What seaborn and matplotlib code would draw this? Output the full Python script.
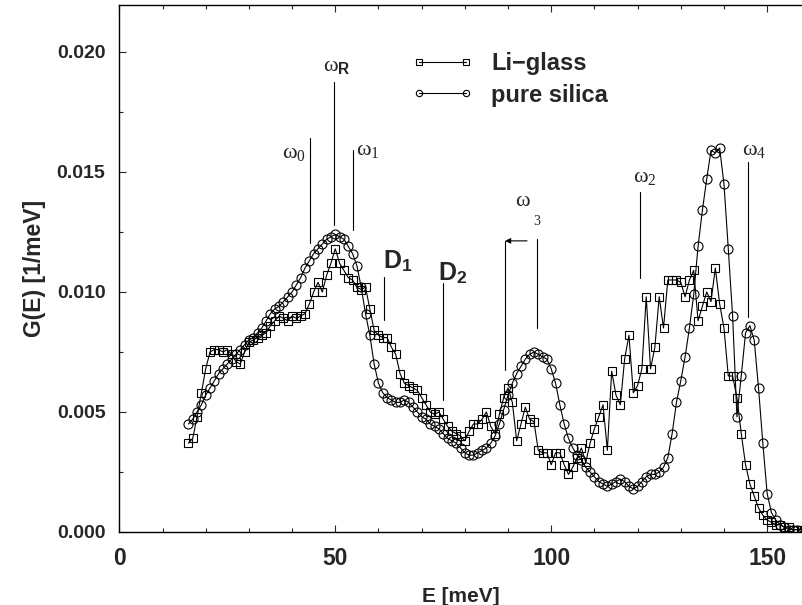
import matplotlib
matplotlib.use("Agg")
import matplotlib.pyplot as plt
import seaborn as sns
import pandas as pd
from matplotlib.ticker import MultipleLocator, FormatStrFormatter

E = [16, 17, 18, 19, 20, 21, 22, 23, 24, 25,
     26, 27, 28, 29, 30, 31, 32, 33, 34, 35,
     36, 37, 38, 39, 40, 41, 42, 43, 44, 45,
     46, 47, 48, 49, 50, 51, 52, 53, 54, 55,
     56, 57, 58, 59, 60, 61, 62, 63, 64, 65,
     66, 67, 68, 69, 70, 71, 72, 73, 74, 75,
     76, 77, 78, 79, 80, 81, 82, 83, 84, 85,
     86, 87, 88, 89, 90, 91, 92, 93, 94, 95,
     96, 97, 98, 99, 100, 101, 102, 103, 104, 105,
     106, 107, 108, 109, 110, 111, 112, 113, 114, 115,
     116, 117, 118, 119, 120, 121, 122, 123, 124, 125,
     126, 127, 128, 129, 130, 131, 132, 133, 134, 135,
     136, 137, 138, 139, 140, 141, 142, 143, 144, 145,
     146, 147, 148, 149, 150, 151, 152, 153, 154, 155,
     156, 157, 158]

silica = [0.0045, 0.0047, 0.0050, 0.0053, 0.0057, 0.0060, 0.0063, 0.0066, 0.0068, 0.0070,
          0.0072, 0.0074, 0.0076, 0.0078, 0.0080, 0.0081, 0.0083, 0.0085, 0.0088, 0.0091,
          0.0093, 0.0094, 0.0096, 0.0098, 0.0100, 0.0103, 0.0106, 0.0110, 0.0113, 0.0116,
          0.0118, 0.0120, 0.0122, 0.0123, 0.0124, 0.0123, 0.0122, 0.0119, 0.0116, 0.0111,
          0.0102, 0.0091, 0.0082, 0.0070, 0.0062, 0.0058, 0.0056, 0.0055, 0.0054, 0.0054,
          0.0055, 0.0054, 0.0052, 0.0050, 0.0048, 0.0047, 0.0045, 0.0044, 0.0043, 0.0041,
          0.0039, 0.0038, 0.0037, 0.0035, 0.0033, 0.0032, 0.0032, 0.0033, 0.0034, 0.0035,
          0.0037, 0.0040, 0.0045, 0.0051, 0.0057, 0.0062, 0.0066, 0.0069, 0.0072, 0.0074,
          0.0075, 0.0074, 0.0073, 0.0072, 0.0068, 0.0062, 0.0053, 0.0045, 0.0039, 0.0035,
          0.0032, 0.0030, 0.0027, 0.0025, 0.0023, 0.0021, 0.0020, 0.0019, 0.0020, 0.0021,
          0.0022, 0.0021, 0.0019, 0.0018, 0.0019, 0.0021, 0.0023, 0.0024, 0.0024, 0.0025,
          0.0027, 0.0031, 0.0041, 0.0054, 0.0063, 0.0073, 0.0085, 0.0099, 0.0119, 0.0134,
          0.0147, 0.0159, 0.0158, 0.0160, 0.0145, 0.0118, 0.0090, 0.0048, 0.0065, 0.0083,
          0.0086, 0.0080, 0.0060, 0.0037, 0.0016, 0.0008, 0.0005, 0.0003, 0.0002, 0.0001,
          0.0001, 0.0001, 0.0000]

li_glass = [0.0037, 0.0039, 0.0048, 0.0058, 0.0068, 0.0075, 0.0076, 0.0076, 0.0075, 0.0076,
            0.0074, 0.0071, 0.0070, 0.0075, 0.0079, 0.0080, 0.0081, 0.0082, 0.0083, 0.0086,
            0.0088, 0.0090, 0.0089, 0.0088, 0.0090, 0.0089, 0.0090, 0.0091, 0.0095, 0.0100,
            0.0104, 0.0100, 0.0107, 0.0112, 0.0118, 0.0112, 0.0109, 0.0106, 0.0105, 0.0102,
            0.0101, 0.0102, 0.0093, 0.0084, 0.0082, 0.0081, 0.0081, 0.0077, 0.0074, 0.0066,
            0.0062, 0.0061, 0.0060, 0.0059, 0.0056, 0.0053, 0.0050, 0.0049, 0.0050, 0.0047,
            0.0044, 0.0042, 0.0041, 0.0040, 0.0038, 0.0042, 0.0045, 0.0045, 0.0047, 0.0050,
            0.0044, 0.0041, 0.0049, 0.0056, 0.0060, 0.0054, 0.0038, 0.0045, 0.0052, 0.0047,
            0.0046, 0.0034, 0.0033, 0.0033, 0.0028, 0.0033, 0.0033, 0.0028, 0.0024, 0.0027,
            0.0031, 0.0035, 0.0029, 0.0037, 0.0043, 0.0048, 0.0053, 0.0034, 0.0067, 0.0057,
            0.0053, 0.0072, 0.0082, 0.0058, 0.0061, 0.0068, 0.0098, 0.0068, 0.0077, 0.0098,
            0.0085, 0.0105, 0.0105, 0.0105, 0.0104, 0.0098, 0.0105, 0.0109, 0.0088, 0.0094,
            0.0100, 0.0096, 0.0110, 0.0095, 0.0085, 0.0065, 0.0065, 0.0056, 0.0041, 0.0028,
            0.0020, 0.0015, 0.0010, 0.0007, 0.0005, 0.0004, 0.0003, 0.0003, 0.0002, 0.0002,
            0.0001, 0.0001, 0.0001]

series_names = ["Li\u2212glass", "pure silica"]

x_major_ticks = [0, 50, 100, 150]
y_major_ticks = [0.000, 0.005, 0.010, 0.015, 0.020]

sns.set_theme(style="ticks")
plt.rcParams['font.family'] = ['Liberation Sans', 'DejaVu Sans']
plt.rcParams['font.weight'] = 'normal'
plt.rcParams['mathtext.fontset'] = 'custom'
plt.rcParams['mathtext.rm'] = 'Liberation Serif:weight=normal'
plt.rcParams['mathtext.it'] = 'Liberation Serif:italic'
plt.rcParams['mathtext.bf'] = 'Liberation Sans:bold'
plt.rcParams['mathtext.sf'] = 'Liberation Sans'

fig = plt.figure(figsize=(8.03, 6.05), dpi=100)
ax = fig.add_axes([0.1486, 0.1207, 0.8514, 0.8711])

df_li = pd.DataFrame({"E": E, "G": li_glass})
df_si = pd.DataFrame({"E": E, "G": silica})

sns.lineplot(data=df_li, x="E", y="G", ax=ax, color="black", lw=0.8,
             marker="s", markersize=5.5, markerfacecolor="none",
             markeredgecolor="black", markeredgewidth=0.8,
             label=series_names[0], errorbar=None, sort=False)
sns.lineplot(data=df_si, x="E", y="G", ax=ax, color="black", lw=0.8,
             marker="o", markersize=6.5, markerfacecolor="none",
             markeredgecolor="black", markeredgewidth=0.8,
             label=series_names[1], errorbar=None, sort=False)

ax.set_xlim(0, 158.3)
ax.set_ylim(0, 0.02196)
ax.set_xticks(x_major_ticks)
ax.set_yticks(y_major_ticks)
ax.xaxis.set_minor_locator(MultipleLocator(10))
ax.yaxis.set_minor_locator(MultipleLocator(0.0025))
ax.yaxis.set_major_formatter(FormatStrFormatter('%.3f'))
ax.tick_params(which='both', direction='in', top=True, right=False, width=0.8)
ax.tick_params(which='major', length=5)
ax.tick_params(which='minor', length=3)
ax.tick_params(axis='x', labelsize=16.5, pad=11)
ax.tick_params(axis='y', labelsize=14, pad=10)
for lab in ax.get_xticklabels() + ax.get_yticklabels():
    lab.set_fontweight('bold')
ax.spines['right'].set_visible(False)
for s in ['left', 'bottom', 'top']:
    ax.spines[s].set_linewidth(1.0)
    ax.spines[s].set_color('black')

ax.set_xlabel("E [meV]", fontsize=15, fontweight='bold', labelpad=12)
ax.set_ylabel("G(E) [1/meV]", fontsize=16.5, fontweight='bold', labelpad=8)

leg = ax.legend(loc='upper left', bbox_to_anchor=(0.428, 0.91), frameon=False,
                numpoints=2, handlelength=2.6, handletextpad=0.75,
                labelspacing=0.35, borderpad=0, borderaxespad=0,
                markerscale=0.7, prop={'family': 'Liberation Sans', 'weight': 'bold', 'size': 17})

# annotation lines
lw_a = 0.8
vlines = [(44.2, 0.01204, 0.01642), (49.8, 0.01279, 0.01875), (54.1, 0.01258, 0.01592),
          (61.3, 0.00883, 0.01063), (75.0, 0.0055, 0.01037), (96.7, 0.0085, 0.01221),
          (89.3, 0.00675, 0.01213), (120.6, 0.01058, 0.01417), (145.6, 0.00896, 0.01542)]
for xv, y0, y1 in vlines:
    ax.plot([xv, xv], [y0, y1], color='black', lw=lw_a)
ax.annotate("", xy=(89.3, 0.01213), xytext=(94.4, 0.01213),
            arrowprops=dict(arrowstyle='-|>', color='black', lw=lw_a, mutation_scale=8,
                            shrinkA=0, shrinkB=0))

# omega labels (single mathtext strings)
omega_labels = [(47.2, 0.01942, "$\\mathrm{\u03c9}_{\\mathbf{R}}$"),
                (37.7, 0.01580, "$\\mathrm{\u03c9}_{\\mathrm{0}}$"),
                (54.8, 0.01592, "$\\mathrm{\u03c9}_{\\mathrm{1}}$"),
                (118.9, 0.01483, "$\\mathrm{\u03c9}_{\\mathrm{2}}$"),
                (144.2, 0.01592, "$\\mathrm{\u03c9}_{\\mathrm{4}}$")]
for x, y, s in omega_labels:
    ax.text(x, y, s, fontsize=16, fontweight='normal', ha='left', va='center')

# omega_3 has a widely separated subscript
ax.text(93.3, 0.01375, "\u03c9", family=['Liberation Serif', 'DejaVu Serif'], fontsize=16,
        fontweight='normal', ha='center', va='center')
ax.text(96.7, 0.01292, "3", family=['Liberation Serif', 'DejaVu Serif'], fontsize=10,
        fontweight='normal', ha='center', va='center')

for x, y, s in [(61.1, 0.01129, r"$\mathbf{D}_{\mathbf{1}}$"),
                (73.8, 0.01079, r"$\mathbf{D}_{\mathbf{2}}$")]:
    ax.text(x, y, s, fontsize=18, ha='left', va='center')

fig.savefig("out.png", dpi=100)
